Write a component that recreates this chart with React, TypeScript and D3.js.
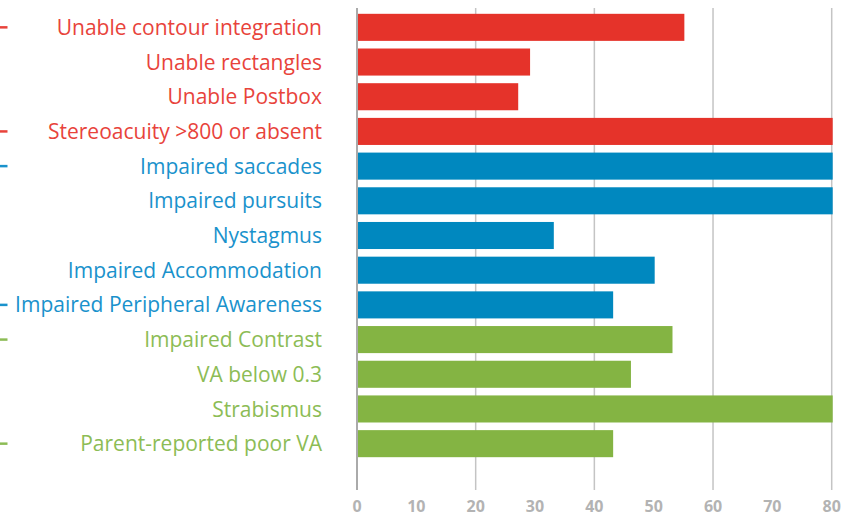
import React, { useEffect, useRef } from "react";
import * as d3 from "d3";

// rows top to bottom
const categories = [
  "Unable contour integration",
  "Unable rectangles",
  "Unable Postbox",
  "Stereoacuity >800 or absent",
  "Impaired saccades",
  "Impaired pursuits",
  "Nystagmus",
  "Impaired Accommodation",
  "Impaired Peripheral Awareness",
  "Impaired Contrast",
  "VA below 0.3",
  "Strabismus",
  "Parent-reported poor VA",
];
const values = [55, 29, 27, 80, 80, 80, 33, 50, 43, 53, 46, 80, 43];
const groups = ["red", "red", "red", "red", "blue", "blue", "blue", "blue", "blue", "green", "green", "green", "green"];
const dashed = [true, false, false, true, true, false, false, false, true, true, false, false, true];
const xTicks = [0, 10, 20, 30, 40, 50, 60, 70, 80];
const gridTicks = [0, 20, 40, 60, 80];

const barColor: Record<string, string> = { red: "#e5332a", blue: "#0088bf", green: "#84b443" };
const textColor: Record<string, string> = { red: "#e8433b", blue: "#1a92cc", green: "#8cbc55" };

const App = () => {
  const svgRef = useRef<SVGSVGElement>(null);

  useEffect(() => {
    const width = 861, height = 517;
    const svg = d3.select(svgRef.current).attr("width", width).attr("height", height);
    svg.selectAll("*").remove();

    const x = d3.scaleLinear().domain([0, 80]).range([357, 831.7]);
    const y = d3.scaleBand<number>()
      .domain(d3.range(categories.length))
      .range([10, 461])
      .paddingInner(0.22)
      .paddingOuter(0.11);

    // grid
    svg.append("g")
      .selectAll("line")
      .data(gridTicks)
      .enter()
      .append("line")
      .attr("x1", d => x(d))
      .attr("x2", d => x(d))
      .attr("y1", 8)
      .attr("y2", 490)
      .attr("stroke", d => (d === 0 ? "#aaaaaa" : "#c4c4c4"))
      .attr("stroke-width", d => (d === 0 ? 2 : 1.5));

    svg.append("g")
      .selectAll("rect")
      .data(values)
      .enter()
      .append("rect")
      .attr("x", x(0) + 1)
      .attr("y", (d, i) => y(i)!)
      .attr("width", d => x(d) - x(0))
      .attr("height", y.bandwidth())
      .attr("fill", (d, i) => barColor[groups[i]]);

    svg.append("g")
      .selectAll("text")
      .data(categories)
      .enter()
      .append("text")
      .attr("x", 322)
      .attr("y", (d, i) => y(i)! + y.bandwidth() / 2)
      .attr("dy", "0.36em")
      .attr("text-anchor", "end")
      .attr("font-family", "'Open Sans', sans-serif")
      .attr("font-size", 21)
      .attr("fill", (d, i) => textColor[groups[i]])
      .text(d => d);

    // little dashes at the far left
    svg.append("g")
      .selectAll("line")
      .data(categories.map((c, i) => i).filter(i => dashed[i]))
      .enter()
      .append("line")
      .attr("x1", 0)
      .attr("x2", 7.5)
      .attr("y1", i => y(i)! + y.bandwidth() / 2)
      .attr("y2", i => y(i)! + y.bandwidth() / 2)
      .attr("stroke", i => textColor[groups[i]])
      .attr("stroke-width", 2.5);

    svg.append("g")
      .selectAll("text")
      .data(xTicks)
      .enter()
      .append("text")
      .attr("x", d => x(d))
      .attr("y", 512)
      .attr("text-anchor", "middle")
      .attr("font-family", "'Open Sans', sans-serif")
      .attr("font-weight", "bold")
      .attr("font-size", 16)
      .attr("fill", "#b3b3b3")
      .text(d => d);
  }, []);

  return <svg ref={svgRef} style={{ position: "absolute", left: 0, top: 0 }}></svg>;
};

export default App;
